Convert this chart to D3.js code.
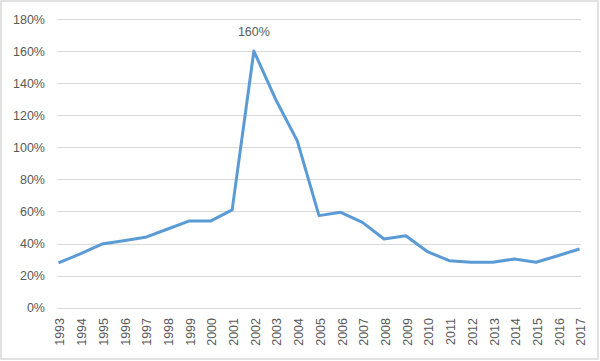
<!DOCTYPE html>
<html>
<head>
<meta charset="utf-8">
<script src="https://cdn.jsdelivr.net/npm/d3@7"></script>
<style>
  html, body { margin: 0; padding: 0; background: #fff; }
  svg { display: block; }
  text { font-family: "Liberation Sans", Arial, sans-serif; fill: #595959; }
</style>
</head>
<body>
<svg id="chart" width="600" height="361"></svg>
<script>
const years = ["1993","1994","1995","1996","1997","1998","1999","2000","2001","2002","2003","2004","2005","2006","2007","2008","2009","2010","2011","2012","2013","2014","2015","2016","2017"];
const values = [28, 33.5, 39.7, 41.8, 43.9, 48.9, 54, 54, 61, 160, 130, 104, 57.4, 59.5, 53.2, 42.8, 44.9, 34.9, 29.3, 28.3, 28.3, 30.4, 28.3, 32.4, 36.6];
const yTicks = [0, 20, 40, 60, 80, 100, 120, 140, 160, 180];
const peakLabel = "160%";
const peakYear = "2002";

const svg = d3.select("#chart");

// outer border
svg.append("rect")
  .attr("x", 1).attr("y", 1).attr("width", 597).attr("height", 358)
  .attr("fill", "#fff").attr("stroke", "#D9D9D9").attr("stroke-width", 1.5);

const x = d3.scalePoint().domain(years).range([58.5, 579.5]).padding(0);
const y = d3.scaleLinear().domain([0, 180]).range([307.7, 19]);

// gridlines
svg.append("g").selectAll("line").data(yTicks).join("line")
  .attr("x1", 57).attr("x2", 581)
  .attr("y1", d => Math.round(y(d)) + 0.5).attr("y2", d => Math.round(y(d)) + 0.5)
  .attr("stroke", "#D9D9D9").attr("stroke-width", 1);

// y axis labels
const yAxis = d3.axisLeft(y).tickValues(yTicks).tickFormat(d => d + "%").tickSize(0).tickPadding(0);
const gy = svg.append("g").attr("transform", "translate(45,0)").call(yAxis);
gy.select(".domain").remove();
gy.selectAll("text").attr("font-size", 12.5).style("fill", "#595959")
  .attr("font-family", "Liberation Sans, Arial, sans-serif");

// x axis labels (rotated, reading bottom to top)
const xAxis = d3.axisBottom(x).tickSize(0).tickPadding(0);
const gx = svg.append("g").attr("transform", "translate(0,316)").call(xAxis);
gx.select(".domain").remove();
gx.selectAll(".tick text")
  .attr("font-size", 12.5).style("fill", "#595959")
  .attr("font-family", "Liberation Sans, Arial, sans-serif")
  .attr("transform", "rotate(-90)")
  .attr("text-anchor", "end")
  .attr("x", -2).attr("y", 1).attr("dy", "0.35em");

// line
const line = d3.line().x((d, i) => x(years[i])).y(d => y(d));
svg.append("path").datum(values)
  .attr("d", line)
  .attr("fill", "none")
  .attr("stroke", "#5B9BD5")
  .attr("stroke-width", 3)
  .attr("stroke-linejoin", "round");

// peak label
const pi = years.indexOf(peakYear);
svg.append("text")
  .attr("x", x(peakYear)).attr("y", y(values[pi]) - 15)
  .attr("text-anchor", "middle")
  .attr("font-size", 12.5)
  .text(peakLabel);
</script>
</body>
</html>
